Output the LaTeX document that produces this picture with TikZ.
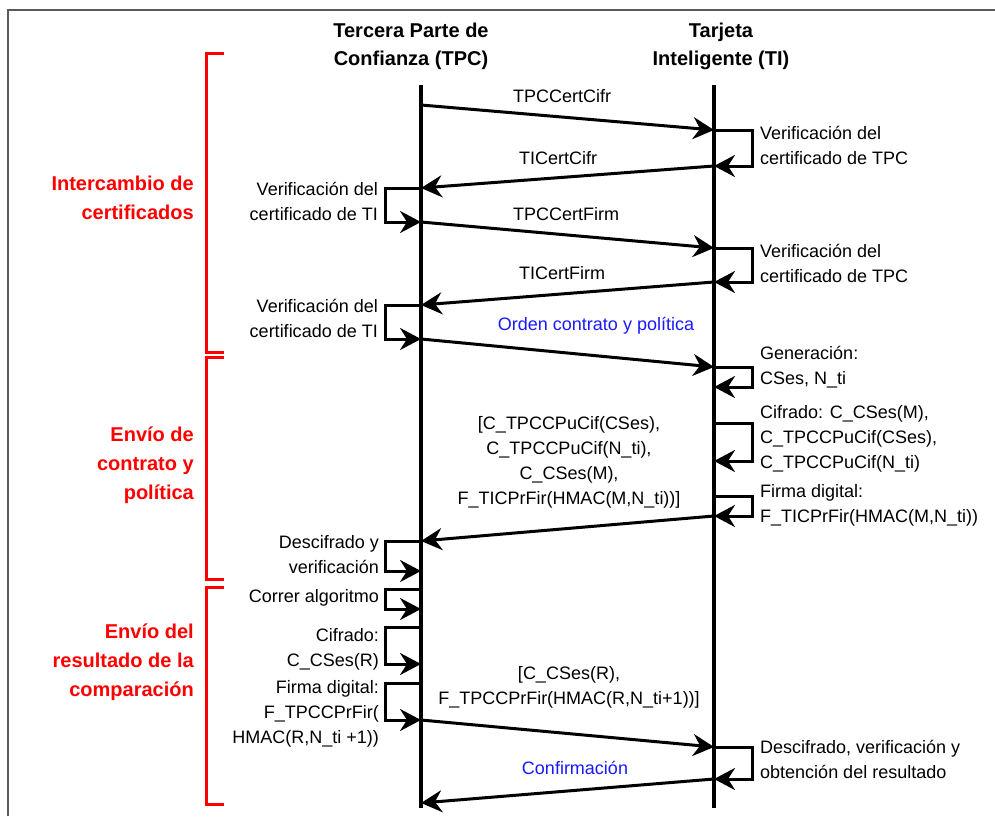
\documentclass[tikz,border=0pt]{standalone}
\usepackage{fontspec}
\setmainfont{Liberation Sans}
\usetikzlibrary{arrows.meta}
\definecolor{framegray}{RGB}{90,90,90}
\definecolor{seccolor}{RGB}{255,0,0}
\definecolor{notecolor}{RGB}{25,25,255}

\begin{document}
\begin{tikzpicture}[x=1pt,y=-1pt,
  lifeline/.style={line width=3.2pt},
  msg/.style={line width=3pt,-{Stealth[length=21pt,width=22pt,inset=7pt]}},
  bracket/.style={draw=seccolor,line width=3pt},
  header/.style={font=\bfseries\fontsize{20}{28}\selectfont,align=center,inner sep=0pt},
  section/.style={font=\bfseries\fontsize{20}{29}\selectfont,text=seccolor,align=right,anchor=east,inner sep=0pt},
  txt/.style={font=\fontsize{18}{25}\selectfont,inner sep=0pt},
  tinote/.style={txt,align=left,anchor=west},
  tpcnote/.style={txt,align=right,anchor=east},
  label/.style={txt,align=center},
  bluelabel/.style={label,text=notecolor}
]
\useasboundingbox (0,0) rectangle (995,816);

% outer frame (top and left edges)
\draw[framegray,line width=2pt] (8,816) -- (8,10) -- (995,10);

% participants
\node[header] (tpc) at (411,46) {Tercera Parte de\\Confianza (TPC)};
\node[header] (ti)  at (721,46) {Tarjeta\\Inteligente (TI)};

% lifelines
\coordinate (tpctop) at (421,85);
\coordinate (tpcbot) at (421,808);
\coordinate (titop)  at (714,85);
\coordinate (tibot)  at (714,808);
\draw[lifeline] (tpctop) -- (tpcbot);
\draw[lifeline] (titop) -- (tibot);

% reference x positions of the self-loops
\coordinate (lx) at (385,0);
\coordinate (rx) at (752,0);

% event points on the TPC lifeline
\foreach \n/\y in {a1/105,a2/188,a3/222,a4/305,a5/339,a6/541,a7/571,a8/589,
                   a9/609,a10/627,a11/664,a12/683,a13/720,a14/803}
  \coordinate (\n) at (421,\y);
% event points on the TI lifeline
\foreach \n/\y in {b1/130,b2/166,b3/248,b4/282,b5/367,b6/387,b7/423,b8/461,
                   b9/496,b10/516,b11/747,b12/779}
  \coordinate (\n) at (714,\y);

% messages between the parties
\draw[msg] (a1) -- (b1);
\draw[msg] (b2) -- (a2);
\draw[msg] (a3) -- (b3);
\draw[msg] (b4) -- (a4);
\draw[msg] (a5) -- (b5);
\draw[msg] (b10) -- (a6);
\draw[msg] (a13) -- (b11);
\draw[msg] (b12) -- (a14);

% local processing on the TPC side
\foreach \s/\e in {a2/a3,a4/a5,a6/a7,a8/a9,a10/a11,a12/a13}
  \draw[msg] (\s) -- (\s -| lx) |- (\e);
% local processing on the TI side
\foreach \s/\e in {b1/b2,b3/b4,b5/b6,b7/b8,b9/b10,b11/b12}
  \draw[msg] (\s) -- (\s -| rx) |- (\e);

% message labels
\node[label] (m1) at (562,96)  {TPCCertCifr};
\node[label] (m2) at (558,158) {TICertCifr};
\node[label] (m3) at (566,214) {TPCCertFirm};
\node[label] (m4) at (562,273) {TICertFirm};
\node[bluelabel] (m5) at (596,326) {Orden contrato y política};
\node[label] (m6) at (569,462) {[C\_TPCCPuCif(CSes),\\C\_TPCCPuCif(N\_ti),\\C\_CSes(M),\\F\_TICPrFir(HMAC(M,N\_ti))]};
\node[label] (m7) at (569,687) {[C\_CSes(R),\\F\_TPCCPrFir(HMAC(R,N\_ti+1))]};
\node[bluelabel] (m8) at (575,768) {Confirmación};

% notes beside the TI lifeline
\node[tinote] (n1) at (760,145) {Verificación del\\certificado de TPC};
\node[tinote] (n2) at (760,263) {Verificación del\\certificado de TPC};
\node[tinote] (n3) at (760,367) {Generación:\\CSes, N\_ti};
\node[tinote] (n4) at (760,439) {Cifrado: C\_CSes(M),\\C\_TPCCPuCif(CSes),\\C\_TPCCPuCif(N\_ti)};
\node[tinote] (n5) at (760,505) {Firma digital:\\F\_TICPrFir(HMAC(M,N\_ti))};
\node[tinote] (n6) at (760,759) {Descifrado, verificación y\\obtención del resultado};

% notes beside the TPC lifeline
\node[tpcnote] (p1) at (378,201) {Verificación del\\certificado de TI};
\node[tpcnote] (p2) at (378,318) {Verificación del\\certificado de TI};
\node[tpcnote] (p3) at (379,555) {Descifrado y\\verificación};
\node[tpcnote] (p4) at (379,598) {Correr algoritmo};
\node[tpcnote] (p5) at (379,649) {Cifrado:\\C\_CSes(R)};
\node[tpcnote] (p6) at (379,714) {Firma digital:\\F\_TPCCPrFir(\\HMAC(R,N\_ti +1))};

% phase brackets
\draw[bracket] (224,54) -- (206,54) -- (206,352) -- (224,352);
\draw[bracket] (224,357) -- (206,357) -- (206,579) -- (224,579);
\draw[bracket] (224,587) -- (206,587) -- (206,804) -- (224,804);

% phase titles
\node[section] (s1) at (194,198) {Intercambio de\\certificados};
\node[section] (s2) at (194,465) {Envío de\\contrato y\\política};
\node[section] (s3) at (194,662) {Envío del\\resultado de la\\comparación};
\end{tikzpicture}
\end{document}
